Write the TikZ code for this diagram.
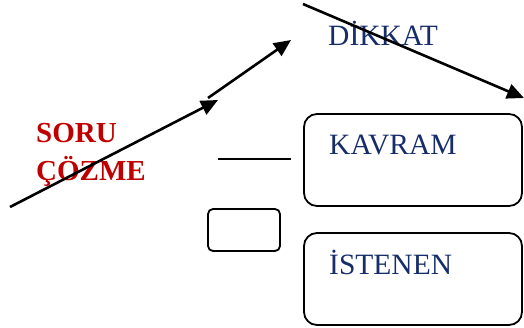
\documentclass[tikz,border=0pt]{standalone}
\usepackage{fontspec}
\setmainfont{Liberation Serif}
\usetikzlibrary{arrows.meta}
\definecolor{soruRed}{RGB}{192,0,0}
\definecolor{navyText}{RGB}{23,45,105}
\begin{document}
\begin{tikzpicture}[x=1pt,y=-1pt,
  arrowline/.style={line width=2.6pt,-{Triangle[length=17pt,width=15pt]}},
  bigbox/.style={draw,line width=1.8pt,rounded corners=13pt},
  smallbox/.style={draw,line width=1.8pt,rounded corners=5pt},
  bluetext/.style={text=navyText,font=\fontsize{29.5}{34}\selectfont,inner sep=0pt,anchor=base west},
  redtext/.style={text=soruRed,font=\fontsize{29}{38}\selectfont\bfseries,inner sep=0pt,anchor=base west,align=left}]
\useasboundingbox (0,0) rectangle (524,327);
% boxes
\draw[bigbox] (304,114) rectangle (522,206);
\draw[bigbox] (304,233) rectangle (522,325);
\draw[smallbox] (208,209) rectangle (280,251);
% texts
\node[redtext] (soru) at (36,180) {SORU\\ÇÖZME};
\node[bluetext] (dikkat) at (328,45) {DİKKAT};
\node[bluetext] (kavram) at (329,154) {KAVRAM};
\node[bluetext] (istenen) at (329,274) {İSTENEN};
% connectors
\coordinate (a1s) at (10,207);
\coordinate (a1e) at (218,100);
\coordinate (a2s) at (208,98);
\coordinate (a2e) at (291,40);
\coordinate (a3s) at (303,4);
\coordinate (a3e) at (524,98);
\coordinate (ls) at (218,159);
\coordinate (le) at (291,159);
\draw[arrowline] (a1s) -- (a1e);
\draw[arrowline] (a2s) -- (a2e);
\draw[arrowline] (a3s) -- (a3e);
\draw[line width=1.8pt] (ls) -- (le);
\end{tikzpicture}
\end{document}
